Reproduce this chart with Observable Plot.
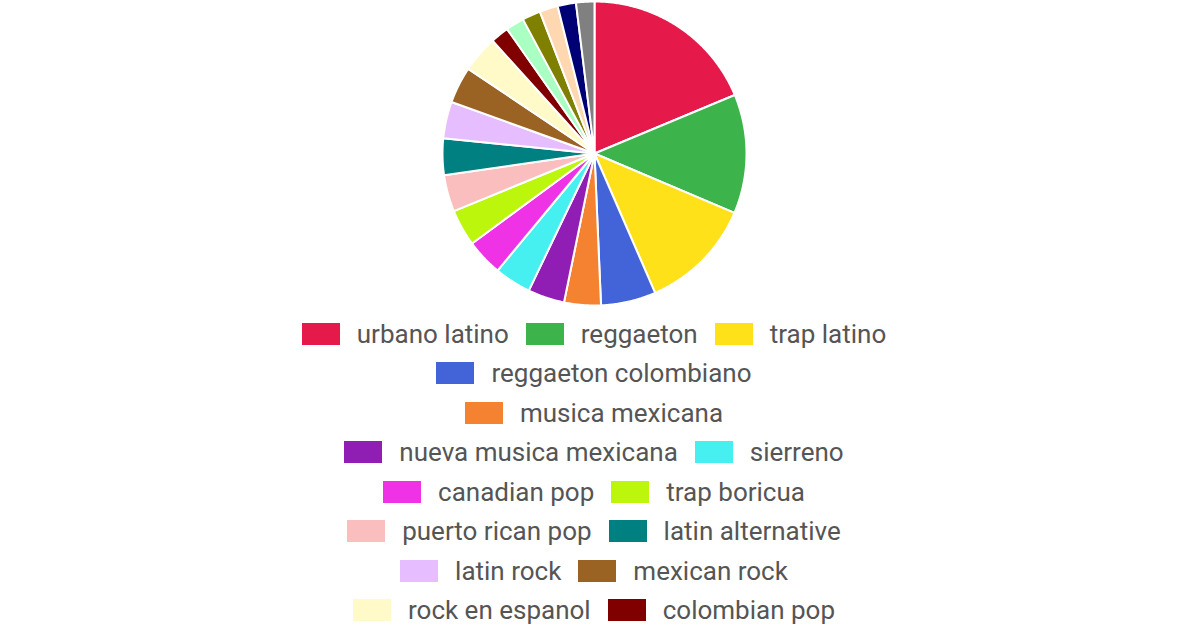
<!DOCTYPE html>
<html>
<head>
<meta charset="utf-8">
<script src="https://cdn.jsdelivr.net/npm/d3@7"></script>
<script src="https://cdn.jsdelivr.net/npm/@observablehq/plot@0.6"></script>
<style>
  html, body { margin: 0; padding: 0; background: #fff; }
  body { width: 1200px; height: 628px; overflow: hidden; font-family: Roboto, "Liberation Sans", Arial, sans-serif; }
  #chart svg { display: block; }
  #legend { position: absolute; top: 306px; left: 0; width: 1188px; height: 322px; overflow: hidden; padding-top: 8px; box-sizing: border-box; }
  .row { display: flex; justify-content: center; align-items: center; height: 39.5px; }
  .item { display: flex; align-items: center; margin: 0 8.5px; }
  .sw { width: 38px; height: 22px; margin-right: 17px; }
  .lab { font-size: 26px; color: #555; white-space: nowrap; line-height: 1; }
</style>
</head>
<body>
<div id="chart"></div>
<div id="legend"></div>
<script>
// Genres (legend order, clockwise from 12 o'clock)
const genres = [
  "urbano latino", "reggaeton", "trap latino", "reggaeton colombiano",
  "musica mexicana", "nueva musica mexicana", "sierreno", "canadian pop",
  "trap boricua", "puerto rican pop", "latin alternative", "latin rock",
  "mexican rock", "rock en espanol", "colombian pop", "latin pop",
  "latin hip hop", "corrido", "mexican pop", "pop"
];
// Estimated slice values
const values = [
  9.6, 6.5, 6.2, 3,
  2, 2, 2, 2,
  2, 2, 2, 2,
  2, 2, 1, 1,
  1, 1, 1, 1
];
const colors = [
  "#e6194b", "#3cb44b", "#ffe119", "#4363d8",
  "#f58231", "#911eb4", "#46f0f0", "#f032e6",
  "#bcf60c", "#fabebe", "#008080", "#e6beff",
  "#9a6324", "#fffac8", "#800000", "#aaffc3",
  "#808000", "#ffd8b1", "#000075", "#808080"
];
// Legend row grouping (number of items per row)
const legendRows = [3, 1, 1, 2, 2, 2, 2, 2, 2, 2, 1];

// Build slice polygons from d3.pie angles
const arcs = d3.pie().sort(null).value(d => d.value)(genres.map((g, i) => ({genre: g, value: values[i]})));
const pts = [];
for (const a of arcs) {
  const g = a.data.genre;
  pts.push({genre: g, x: 0, y: 0});
  const n = Math.max(2, Math.ceil((a.endAngle - a.startAngle) / (Math.PI / 360)));
  for (let k = 0; k <= n; k++) {
    const t = a.startAngle + (a.endAngle - a.startAngle) * k / n;
    pts.push({genre: g, x: Math.sin(t), y: Math.cos(t)});
  }
}

const chart = Plot.plot({
  width: 1200,
  height: 306,
  marginLeft: 442,
  marginRight: 454,
  marginTop: 1,
  marginBottom: 1,
  x: {domain: [-1, 1], axis: null},
  y: {domain: [-1, 1], axis: null},
  color: {domain: genres, range: colors},
  marks: [
    Plot.line(pts, {x: "x", y: "y", z: "genre", fill: "genre", stroke: "white", strokeWidth: 2, curve: "linear-closed"})
  ]
});
document.getElementById("chart").appendChild(chart);

// Legend
const legend = document.getElementById("legend");
let idx = 0;
for (const count of legendRows) {
  const row = document.createElement("div");
  row.className = "row";
  for (let j = 0; j < count && idx < genres.length; j++, idx++) {
    const item = document.createElement("div");
    item.className = "item";
    const sw = document.createElement("div");
    sw.className = "sw";
    sw.style.background = colors[idx];
    const lab = document.createElement("span");
    lab.className = "lab";
    lab.textContent = genres[idx];
    item.appendChild(sw);
    item.appendChild(lab);
    row.appendChild(item);
  }
  legend.appendChild(row);
}
</script>
</body>
</html>
